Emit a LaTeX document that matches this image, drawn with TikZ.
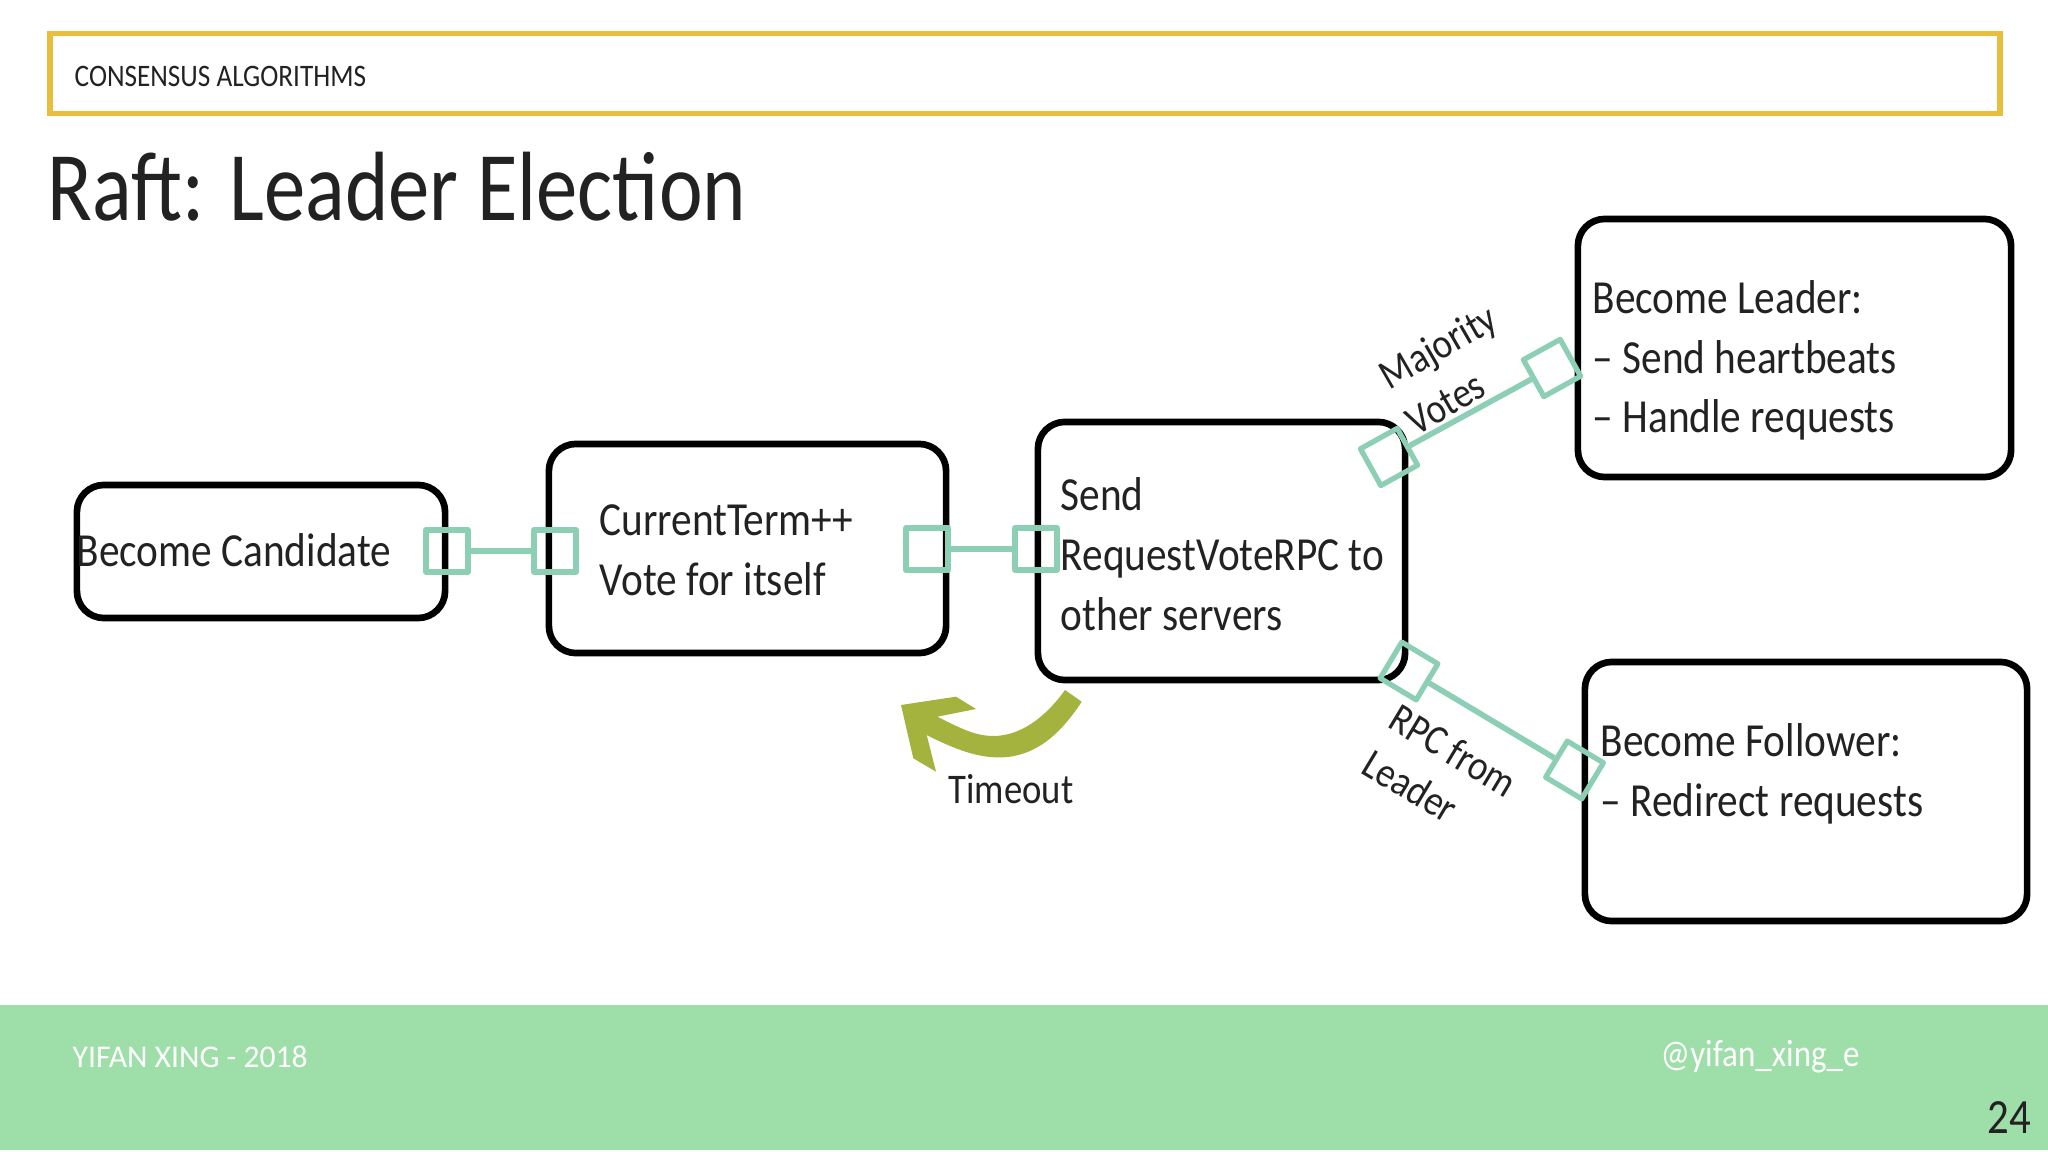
\documentclass[tikz,border=0pt]{standalone}
\usepackage{fontspec}
\setmainfont[FakeStretch=0.87]{Carlito}
\newfontfamily\titlefont[FakeStretch=0.84]{Carlito}
\newfontfamily\capsfont[FakeStretch=1]{Carlito}
\definecolor{bandgreen}{HTML}{9EDEA8}
\definecolor{headyellow}{HTML}{E8BE3C}
\definecolor{portgreen}{HTML}{8CCFB5}
\definecolor{loopgreen}{HTML}{A4B33D}
\definecolor{inkgray}{HTML}{222222}
\tikzset{
	boxnode/.style={draw=black,line width=1.9pt,rounded corners=0.27cm,inner sep=0pt},
	portnode/.style={draw=portgreen,line width=1.5pt,minimum size=0.42cm,inner sep=0pt},
	portline/.style={draw=portgreen,line width=1.6pt},
	bodytext/.style={text=inkgray,font=\fontsize{13.5}{17}\selectfont,align=left,anchor=west,inner sep=0pt},
	edgetext/.style={text=inkgray,font=\fontsize{12}{15}\selectfont,align=left,inner sep=0pt},
}
\begin{document}
\begin{tikzpicture}[x=0.01cm,y=-0.01cm,line join=round]
				\useasboundingbox (0,0) rectangle (2048,1152);
				\fill [white] (0,0) rectangle (2048,1152);
				\fill [bandgreen] (0,1005) rectangle (2048,1150);
				\draw [headyellow,line width=1.5pt,line join=miter] (50,33.5) rectangle (2000,113.5);
				\node [text=inkgray,font=\fontsize{8.9}{10}\selectfont,anchor=base west,inner sep=0pt] (header) at (74,87) {CONSENSUS ALGORITHMS};
				\node [text=inkgray,font=\titlefont\fontsize{28}{30}\selectfont,anchor=base west,inner sep=0pt] (title) at (47,221) {Raft: Leader Election};
				\node [boxnode,minimum width=3.68cm,minimum height=1.33cm] (candidate) at (261,551.5) {};
				\node [boxnode,minimum width=3.97cm,minimum height=2.09cm] (term) at (747.5,548.5) {};
				\node [boxnode,minimum width=3.67cm,minimum height=2.58cm] (send) at (1221.5,551) {};
				\node [boxnode,minimum width=4.33cm,minimum height=2.58cm] (leader) at (1794.5,348) {};
				\node [boxnode,minimum width=4.42cm,minimum height=2.59cm] (follower) at (1806,791.5) {};
				\node [bodytext] (candidatetext) at (76,550) {Become Candidate};
				\node [bodytext] (termtext) at (599,550) {CurrentTerm++\\Vote for itself};
				\node [bodytext] (sendtext) at (1060,554) {Send\\RequestVoteRPC to\\other servers};
				\node [bodytext] (leadertext) at (1592,360.5) {Become Leader:\\-- Send heartbeats\\-- Handle requests};
				\node [bodytext] (followertext) at (1600,774) {Become Follower:\\-- Redirect requests};
				\node [portnode] (candidateout) at (447,551) {};
				\node [portnode] (termin) at (555,551) {};
				\node [portnode] (termout) at (927,549) {};
				\node [portnode] (sendin) at (1036,549) {};
				\node [portnode,rotate=29] (sendup) at (1389,457) {};
				\node [portnode,rotate=29] (leaderin) at (1552,368) {};
				\node [portnode,rotate=-31] (senddown) at (1409,671) {};
				\node [portnode,rotate=-31] (followerin) at (1574.5,770) {};
				\draw [portline] (candidateout)--(termin);
				\draw [portline] (termout)--(sendin);
				\draw [portline] (sendup)--(leaderin);
				\draw [portline] (senddown)--(followerin);
				\node [edgetext,rotate=30] (majority) at (1451,369) {Majority\\Votes};
				\node [edgetext,rotate=-31] (rpcleader) at (1440,773) {RPC from\\Leader};
				\fill [loopgreen] (1065,690)--(1081.7,701.7) .. controls (1058,738) and (1035,753) .. (1010,756.7) .. controls (985,760) and (960,752) .. (926.7,735)--(936,771.7)--(913.3,758.3)--(901,705)--(956,696.7)--(976,709)--(937.3,716.7) .. controls (960,728) and (975,736) .. (993.3,736) .. controls (1020,736) and (1045,718) .. (1065,690);
				\node [edgetext,anchor=base] (timeout) at (1011,803) {Timeout};
				\node [text=white,font=\capsfont\fontsize{9}{10}\selectfont,anchor=base west,inner sep=0pt] (credit) at (72,1067) {YIFAN XING - 2018};
				\node [text=white,font=\fontsize{10.8}{12}\selectfont,anchor=base west,inner sep=0pt] (handle) at (1660,1066) {@yifan\_xing\_e};
				\node [text=inkgray,font=\fontsize{14}{16}\selectfont,anchor=base east,inner sep=0pt] (pagenum) at (2032,1133) {24};
			\end{tikzpicture}
\end{document}
